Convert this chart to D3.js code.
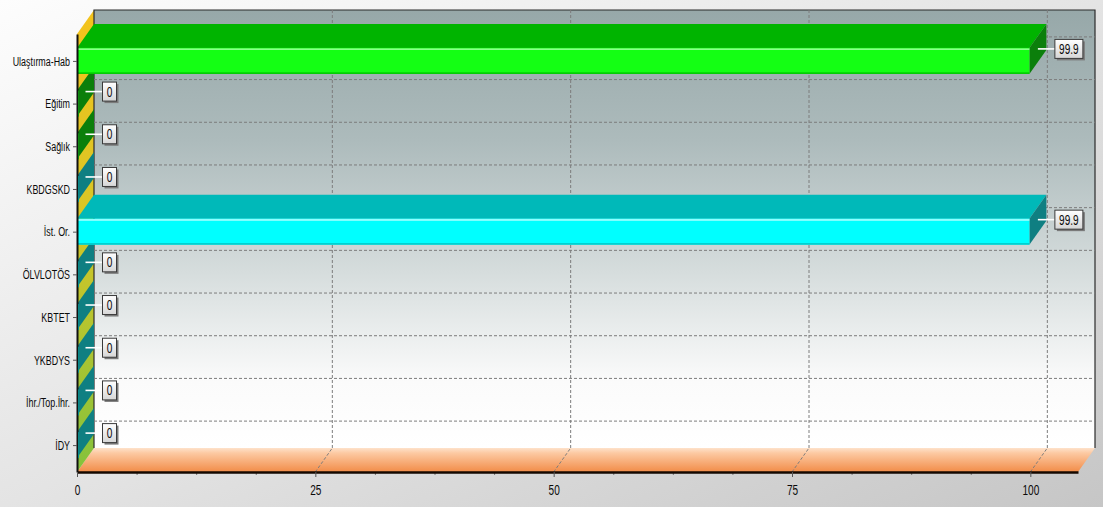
<!DOCTYPE html>
<html>
<head>
<meta charset="utf-8">
<script src="https://cdn.jsdelivr.net/npm/d3@7"></script>
<style>
  html, body { margin: 0; padding: 0; background: #e6e6e6; }
  svg { display: block; }
  text { font-family: "Liberation Sans", Arial, sans-serif; fill: #0a0a0a; }
</style>
</head>
<body>
<svg id="chart" width="1103" height="507"></svg>
<script>
// Category names (top to bottom) and their values
const categories = ["Ulaştırma-Hab", "Eğitim", "Sağlık", "KBDGSKD", "İst. Or.",
                    "ÖLVLOTÖS", "KBTET", "YKBDYS", "İhr./Top.İhr.", "İDY"];
const values = [99.9, 0, 0, 0, 99.9, 0, 0, 0, 0, 0];
const xTicks = [0, 25, 50, 75, 100];

// ---- layout ----
const W = 1103, H = 507;
const DX = 17, DY = 24;          // 3D depth offset (right, up)
const X0 = 77, X1 = 1078;        // front plane horizontal extent
const Y0 = 34, Y1 = 472;         // front plane vertical extent
const BAR_H = 26;
const SX = 0.66;                 // horizontal squeeze of category label glyphs
const SN = 0.72;                 // horizontal squeeze of numeric glyphs

const x = d3.scaleLinear().domain([0, 105]).range([X0, X1]);
const y = d3.scalePoint().domain(categories).range([Y0, Y1]).padding(0.63);

// two colour groups: transport (green) and the rest (cyan)
const GREEN = { front: "#14ff14", hi: "#8cff8c", lo: "#00c800", top: "#00b400", side: "#0b7f0b" };
const CYAN  = { front: "#00ffff", hi: "#a8ffff", lo: "#00c8c8", top: "#00b9b9", side: "#0f7f82" };
const colourOf = i => (i < 3 ? GREEN : CYAN);

const svg = d3.select("#chart");
const defs = svg.append("defs");

function linGrad(id, x1, y1, x2, y2, stops, user) {
  const g = defs.append("linearGradient").attr("id", id)
    .attr("x1", x1).attr("y1", y1).attr("x2", x2).attr("y2", y2);
  if (user) g.attr("gradientUnits", "userSpaceOnUse");
  stops.forEach(([o, c]) => g.append("stop").attr("offset", o).attr("stop-color", c));
}
linGrad("bg", 0, 0, 1, 1, [[0, "#fdfdfd"], [0.5, "#e4e4e4"], [1, "#c6c6c6"]]);
linGrad("backWall", 0, Y0 - DY, 0, Y1 - DY,
  [[0, "#97a8a9"], [0.3, "#adbbbc"], [0.6, "#d6dddd"], [0.85, "#fbfbfb"], [1, "#ffffff"]], true);
linGrad("floor", 0, Y1 - DY - 3, 0, Y1,
  [[0, "#fff0e2"], [0.3, "#fcc9a2"], [1, "#f28c48"]], true);
linGrad("leftWall", 0, Y0 - DY, 0, Y1,
  [[0, "#f4c31c"], [0.45, "#d8c626"], [1, "#84c23c"]], true);
linGrad("markBox", 0, 0, 0, 1, [[0, "#ffffff"], [1, "#d6d6d6"]]);

const poly = pts => "M" + pts.map(p => p.join(",")).join("L") + "Z";

// ---- background ----
svg.append("rect").attr("width", W).attr("height", H).attr("fill", "url(#bg)");

// ---- walls ----
svg.append("rect")
  .attr("x", X0 + DX).attr("y", Y0 - DY)
  .attr("width", X1 - X0).attr("height", Y1 - Y0)
  .attr("fill", "url(#backWall)");
svg.append("path")
  .attr("d", poly([[X0, Y1], [X1, Y1], [X1 + DX, Y1 - DY], [X0 + DX, Y1 - DY]]))
  .attr("fill", "url(#floor)");
svg.append("path")
  .attr("d", poly([[X0, Y0], [X0 + DX, Y0 - DY], [X0 + DX, Y1 - DY], [X0, Y1]]))
  .attr("fill", "url(#leftWall)");
// back wall frame (left, top, right)
svg.append("path")
  .attr("d", `M${X0 + DX},${Y1 - DY}V${Y0 - DY}H${X1 + DX}V${Y1 - DY}`)
  .attr("fill", "none").attr("stroke", "#2b2b2b").attr("stroke-width", 1.2);

// ---- grid ----
const grid = svg.append("g").attr("stroke", "#7c7c7c").attr("stroke-width", 1)
  .attr("stroke-dasharray", "3,2").attr("fill", "none");
categories.forEach(c => {
  grid.append("line")
    .attr("x1", X0 + DX).attr("x2", X1 + DX)
    .attr("y1", y(c) - DY).attr("y2", y(c) - DY);
});
xTicks.filter(t => t > 0).forEach(t => {
  grid.append("line")
    .attr("x1", x(t) + DX).attr("x2", x(t) + DX)
    .attr("y1", Y0 - DY).attr("y2", Y1 - DY);
  grid.append("line")
    .attr("x1", x(t)).attr("y1", Y1)
    .attr("x2", x(t) + DX).attr("y2", Y1 - DY);
});

// ---- bars (drawn bottom-up so upper bars sit in front) ----
const bars = svg.append("g");
for (let i = categories.length - 1; i >= 0; i--) {
  const col = colourOf(i);
  const c = y(categories[i]);
  const a = c - BAR_H / 2, b = c + BAR_H / 2;
  const xa = x(0), xb = x(values[i]);
  const g = bars.append("g");
  if (xb - xa > 0.5) {
    g.append("path")
      .attr("d", poly([[xa, a], [xb, a], [xb + DX, a - DY], [xa + DX, a - DY]]))
      .attr("fill", col.top);
    g.append("path")
      .attr("d", poly([[xb, a], [xb + DX, a - DY], [xb + DX, b - DY], [xb, b]]))
      .attr("fill", col.side);
    g.append("rect").attr("x", xa).attr("y", a).attr("width", xb - xa).attr("height", b - a)
      .attr("fill", col.front);
    g.append("rect").attr("x", xa).attr("y", a + 0.5).attr("width", xb - xa).attr("height", 1.6)
      .attr("fill", col.hi);
    g.append("rect").attr("x", xa).attr("y", b - 1.5).attr("width", xb - xa).attr("height", 1.5)
      .attr("fill", col.lo);
  } else {
    // zero-length bar: only its end face and a sliver of the front face show
    g.append("path")
      .attr("d", poly([[xa, a], [xa + DX, a - DY], [xa + DX, b - DY], [xa, b]]))
      .attr("fill", col.side);
    g.append("rect").attr("x", xa).attr("y", a).attr("width", 2).attr("height", b - a)
      .attr("fill", col.front);
  }
}

// ---- axes ----
const leftAxis = svg.append("g")
  .attr("transform", `translate(${X0},0)`)
  .call(d3.axisLeft(y).tickSize(4).tickSizeOuter(0).tickPadding(3));
leftAxis.select(".domain").attr("stroke", "#111").attr("stroke-width", 2);
leftAxis.selectAll(".tick line").attr("stroke", "#555");
leftAxis.selectAll(".tick text")
  .attr("font-size", 13.5).attr("font-family", null).attr("fill", null)
  .attr("x", -7 / SX)
  .attr("transform", `scale(${SX},1)`);

const minorTicks = d3.range(0, 105, 6.25).filter(v => v % 25 !== 0);
const minorAxis = svg.append("g")
  .attr("transform", `translate(0,${Y1})`)
  .call(d3.axisBottom(x).tickValues(minorTicks).tickSize(3).tickFormat(""));
minorAxis.select(".domain").remove();
minorAxis.selectAll(".tick line").attr("stroke", "#777");

const bottomAxis = svg.append("g")
  .attr("transform", `translate(0,${Y1})`)
  .call(d3.axisBottom(x).tickValues(xTicks).tickSize(5).tickSizeOuter(0).tickPadding(8));
bottomAxis.select(".domain").attr("stroke", "#150800").attr("stroke-width", 2.6);
bottomAxis.selectAll(".tick line").attr("stroke", "#555");
bottomAxis.selectAll(".tick text")
  .attr("font-size", 14).attr("font-family", null).attr("fill", null)
  .attr("transform", `scale(${SN},1)`);

// ---- value marks ----
const marks = svg.append("g");
categories.forEach((cat, i) => {
  const cy = y(cat) - DY / 2;
  const sx = x(values[i]) + DX / 2;
  const bx = sx + 17;
  marks.append("line")
    .attr("x1", sx).attr("x2", bx).attr("y1", cy).attr("y2", cy)
    .attr("stroke", "#ffffff").attr("stroke-width", 1.6);
  const label = values[i] === 0 ? "0" : values[i].toFixed(1);
  const g = marks.append("g").attr("transform", `translate(${bx},${cy})`);
  const t = g.append("text")
    .attr("font-size", 14).attr("text-anchor", "middle").attr("dy", "0.36em")
    .attr("transform", `scale(${SN},1)`)
    .text(label);
  const tw = t.node().getComputedTextLength() * SN;
  const bw = Math.round(tw + 8), bh = 19;
  t.attr("x", (bw / 2) / SN);
  g.insert("rect", "text").attr("x", 2).attr("y", -bh / 2 + 2).attr("width", bw).attr("height", bh)
    .attr("fill", "#7a7a7a");
  g.insert("rect", "text").attr("x", 0).attr("y", -bh / 2).attr("width", bw).attr("height", bh)
    .attr("fill", "url(#markBox)").attr("stroke", "#3a3a3a").attr("stroke-width", 1);
});
</script>
</body>
</html>
